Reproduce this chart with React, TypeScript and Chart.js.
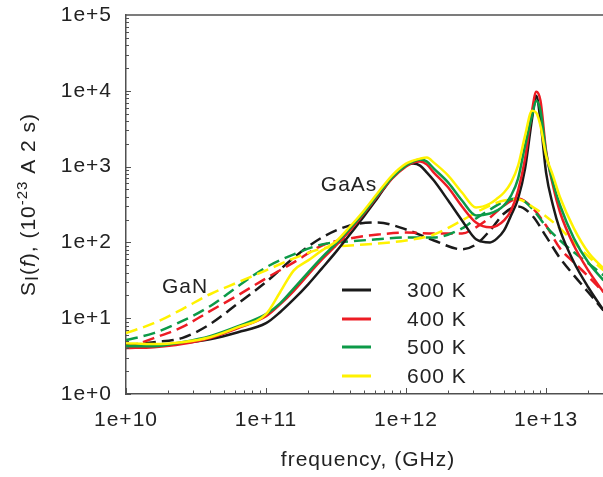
import React, { useEffect, useRef } from 'react';
import { Chart, registerables } from 'chart.js';

Chart.register(...registerables);

// ---- data ----
const temperatures = ['300 K', '400 K', '500 K', '600 K'];
const seriesColors = ['#1a1a1a', '#ed1c24', '#0c9a48', '#fff200'];

// GaAs (solid lines)
const gaasFreq = [
  1e10, 1.58e10, 2.51e10, 3.98e10, 6.31e10, 1e11, 1.26e11, 1.58e11, 2.0e11, 2.51e11,
  3.16e11, 3.98e11, 5.01e11, 6.31e11, 7.94e11, 1e12, 1.12e12, 1.26e12, 1.41e12, 1.58e12,
  2.0e12, 2.51e12, 3.16e12, 3.98e12, 4.47e12, 5.01e12, 5.62e12, 6.31e12, 7.08e12, 7.94e12,
  8.51e12, 9.12e12, 1e13, 1.12e13, 1.26e13, 1.58e13, 2.0e13, 2.57e13,
];
const gaas300 = [
  4.55, 4.41, 4.69, 5.29, 6.54, 8.59, 12.0, 17.8, 28.0, 45.5,
  75, 128, 222, 395, 705, 1031, 1095, 1031, 834, 654,
  357, 195, 110, 100, 113, 144, 227, 379, 942, 4280,
  8600, 4030, 834, 307, 144, 54.6, 25.6, 12.7,
];
const gaas400 = [
  4.03, 4.15, 4.55, 5.46, 7.39, 10.6, 15.2, 23.0, 37.5, 59.7,
  91, 144, 241, 415, 695, 1000, 1129, 1164, 1062, 834,
  529, 298, 183, 158, 167, 195, 264, 483, 1274, 5460,
  9700, 7390, 1625, 562, 248, 91, 42.8, 22.0,
];
const gaas500 = [
  4.28, 4.28, 4.83, 5.80, 7.85, 11.3, 15.7, 24.8, 40.3, 63.5,
  97, 153, 248, 428, 716, 1031, 1164, 1237, 1164, 942,
  616, 357, 227, 241, 264, 307, 415, 695, 1890, 4690,
  7390, 5460, 1530, 616, 307, 113, 54.6, 31.6,
];
const gaas600 = [
  4.69, 4.55, 4.83, 5.62, 7.62, 11.3, 22.0, 42.8, 57.9, 78.5,
  103, 162, 264, 455, 762, 1095, 1199, 1274, 1314, 1129,
  762, 455, 289, 326, 379, 455, 616, 1031, 2560, 5460,
  5140, 3460, 1395, 762, 391, 153, 74, 45.5,
];

// GaN (dashed lines)
const ganFreq = [
  1e10, 1.58e10, 2.51e10, 3.98e10, 6.31e10, 1e11, 1.58e11, 2.51e11, 3.98e11, 6.31e11,
  1e12, 1.58e12, 2.51e12, 3.16e12, 3.98e12, 5.01e12, 6.31e12, 7.94e12, 1e13, 1.26e13,
  1.58e13, 2.0e13, 2.57e13,
];
const gan300 = [
  4.41, 4.83, 5.46, 8.34, 15.7, 30.0, 63.0, 116, 167, 183,
  148, 106, 81, 94, 144, 241, 298, 227, 120, 61.6,
  36.8, 22.0, 12.7,
];
const gan400 = [
  4.03, 5.46, 7.62, 12.4, 20.1, 33.6, 54.6, 91, 113, 127,
  135, 131, 131, 158, 213, 307, 379, 289, 167, 83,
  54.6, 35.7, 22.0,
];
const gan500 = [
  5.14, 6.35, 9.13, 14.4, 26.4, 46.9, 69.5, 94, 103, 110,
  116, 116, 153, 207, 272, 346, 379, 280, 162, 106,
  74, 52.9, 36.8,
];
const gan600 = [
  6.35, 8.59, 13.1, 20.7, 29.8, 42.8, 61.6, 83, 91, 97,
  106, 127, 195, 248, 307, 357, 368, 298, 220, 153,
  100, 65.4, 42.8,
];

const xTickLabels = ['1e+10', '1e+11', '1e+12', '1e+13'];
const yTickLabels = ['1e+0', '1e+1', '1e+2', '1e+3', '1e+4', '1e+5'];
const xTitle = 'frequency, (GHz)';
const materialLabels = ['GaAs', 'GaN'];

// ---- style ----
const FONT = '"Liberation Sans", Arial, Helvetica, sans-serif';
const TEXT = '#222222';
const AXIS = '#505050';

const pairs = (xs: number[], ys: number[]) => xs.map((x, i) => ({ x, y: ys[i] }));

function labelFor(v: number, labels: string[], firstExp: number) {
  const l = Math.log10(v);
  const r = Math.round(l);
  if (Math.abs(l - r) > 1e-6) return '';
  const idx = r - firstExp;
  return labels[idx] ?? '';
}

const decorPlugin = {
  id: 'decor',
  beforeDraw(chart: any) {
    chart.ctx.letterSpacing = '1px';
  },
  afterDraw(chart: any) {
    const { ctx, chartArea: a, scales } = chart;
    const xs = scales.x;
    const ys = scales.y;
    ctx.save();
    ctx.setLineDash([]);
    ctx.lineDashOffset = 0;
    ctx.letterSpacing = '1px';
    ctx.strokeStyle = AXIS;
    ctx.lineWidth = 1.5;
    // top border
    ctx.beginPath();
    ctx.moveTo(a.left, a.top);
    ctx.lineTo(a.right, a.top);
    ctx.stroke();
    // inside ticks
    ctx.lineWidth = 1;
    for (let e = 10; e <= 13; e++) {
      for (let m = 1; m <= 9; m++) {
        const v = m * Math.pow(10, e);
        if (v > xs.max) break;
        const px = Math.round(xs.getPixelForValue(v)) + 0.5;
        const len = m === 1 ? 6 : 3.5;
        ctx.beginPath();
        ctx.moveTo(px, a.bottom);
        ctx.lineTo(px, a.bottom - len);
        ctx.stroke();
      }
    }
    for (let e = 0; e <= 4; e++) {
      for (let m = 1; m <= 9; m++) {
        const v = m * Math.pow(10, e);
        const py = Math.round(ys.getPixelForValue(v)) + 0.5;
        const len = m === 1 ? 5 : 3;
        ctx.beginPath();
        ctx.moveTo(a.left, py);
        ctx.lineTo(a.left + len, py);
        ctx.stroke();
      }
    }

    ctx.fillStyle = TEXT;
    ctx.font = `21px ${FONT}`;
    // material labels
    ctx.textAlign = 'center';
    ctx.textBaseline = 'middle';
    ctx.fillText(materialLabels[0], xs.getPixelForValue(3.92e11), ys.getPixelForValue(562));
    ctx.fillText(materialLabels[1], xs.getPixelForValue(2.64e10), ys.getPixelForValue(25.6));

    // legend (solid swatches)
    const lx = a.left + 216;
    const ly = a.top + 275;
    temperatures.forEach((t, i) => {
      const y = Math.round(ly + i * 28.5);
      ctx.fillStyle = seriesColors[i];
      ctx.fillRect(lx, y - 1.5, 29, 3);
      ctx.textAlign = 'left';
      ctx.textBaseline = 'middle';
      ctx.fillStyle = TEXT;
      ctx.fillText(t, lx + 65, y + 1);
    });

    // x title
    ctx.textAlign = 'center';
    ctx.textBaseline = 'alphabetic';
    ctx.fillText(xTitle, 368, 466);

    // y title with sub/superscripts
    const parts = [
      { t: 'S', size: 21, dy: 0, it: false },
      { t: 'I', size: 18, dy: 3, it: false },
      { t: '(', size: 21, dy: 0, it: false },
      { t: 'f', size: 21, dy: 0, it: true },
      { t: '), (10', size: 21, dy: 0, it: false },
      { t: '-23', size: 15, dy: -8, it: false },
      { t: ' A 2 s)', size: 21, dy: 0, it: false },
    ];
    let total = 0;
    const widths = parts.map((p) => {
      ctx.font = `${p.it ? 'italic ' : ''}${p.size}px ${FONT}`;
      const w = ctx.measureText(p.t).width;
      total += w;
      return w;
    });
    ctx.translate(35, (a.top + a.bottom) / 2);
    ctx.rotate(-Math.PI / 2);
    ctx.textAlign = 'left';
    let x = -total / 2;
    parts.forEach((p, i) => {
      ctx.font = `${p.it ? 'italic ' : ''}${p.size}px ${FONT}`;
      ctx.fillText(p.t, x, p.dy);
      x += widths[i];
    });
    ctx.restore();
  },
};

export default function App() {
  const ref = useRef<HTMLCanvasElement | null>(null);

  useEffect(() => {
    document.body.style.margin = '0';
    const canvas = ref.current;
    if (!canvas) return;

    const solid = [gaas300, gaas400, gaas500, gaas600];
    const dashed = [gan300, gan400, gan500, gan600];
    const datasets: any[] = [];
    temperatures.forEach((t, i) => {
      datasets.push({
        label: `GaAs ${t}`,
        data: pairs(gaasFreq, solid[i]),
        borderColor: seriesColors[i],
        borderWidth: 2.5,
        pointRadius: 0,
        fill: false,
        cubicInterpolationMode: 'monotone',
        order: 10 - i,
      });
      datasets.push({
        label: `GaN ${t}`,
        data: pairs(ganFreq, dashed[i]),
        borderColor: seriesColors[i],
        borderWidth: 2.5,
        borderDash: [12, 6],
        pointRadius: 0,
        fill: false,
        cubicInterpolationMode: 'monotone',
        order: 20 - i,
      });
    });

    const chart = new Chart(canvas, {
      type: 'line',
      data: { datasets },
      options: {
        animation: false,
        responsive: false,
        maintainAspectRatio: false,
        layout: { padding: { top: 15, right: 0, left: 0, bottom: 0 } },
        plugins: { legend: { display: false }, tooltip: { enabled: false } },
        scales: {
          x: {
            type: 'logarithmic',
            min: 1e10,
            max: 2.55e13,
            grid: { display: false, drawTicks: false },
            border: { display: true, color: AXIS, width: 1.5 },
            ticks: {
              autoSkip: false,
              maxRotation: 0,
              minRotation: 0,
              padding: 14,
              color: TEXT,
              font: { family: FONT, size: 21 },
              callback: (v: any) => labelFor(Number(v), xTickLabels, 10),
            },
            afterFit: (s: any) => {
              s.height = 83;
              s.paddingLeft = 0;
              s.paddingRight = 0;
            },
          },
          y: {
            type: 'logarithmic',
            min: 1,
            max: 1e5,
            grid: { display: false, drawTicks: false },
            border: { display: true, color: AXIS, width: 1.5 },
            ticks: {
              autoSkip: false,
              padding: 14,
              color: TEXT,
              font: { family: FONT, size: 21 },
              callback: (v: any) => labelFor(Number(v), yTickLabels, 0),
            },
            afterFit: (s: any) => {
              s.width = 126;
              s.paddingTop = 0;
              s.paddingBottom = 0;
            },
          },
        },
      },
      plugins: [decorPlugin],
    });
    return () => chart.destroy();
  }, []);

  return (
    <div style={{ width: 603, height: 477 }}>
      <canvas ref={ref} width={603} height={477} style={{ display: 'block' }} />
    </div>
  );
}
